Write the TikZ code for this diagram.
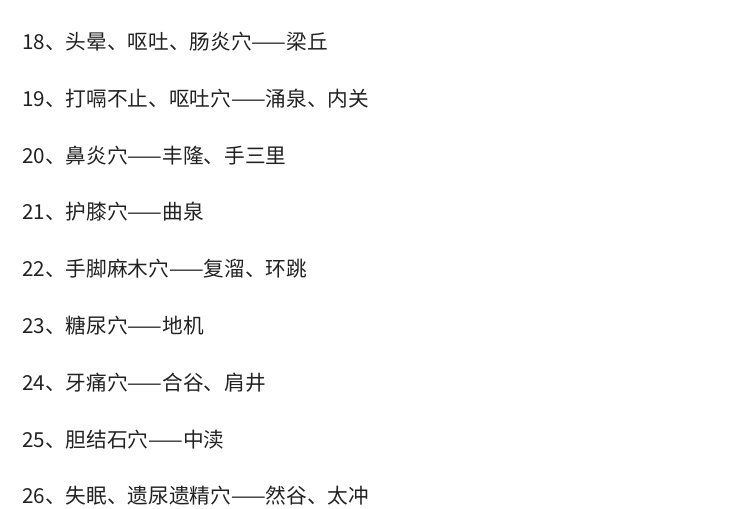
\documentclass[tikz,border=0pt]{standalone}
\usepackage{fontspec}
\setmainfont{Noto Sans CJK SC}
\usetikzlibrary{positioning}
\definecolor{textgray}{RGB}{34,34,34}
\begin{document}
\begin{tikzpicture}[x=0.75pt,y=-0.75pt,
	item/.style={anchor=west,inner sep=0pt,text=textgray,font=\fontsize{15.5pt}{16pt}\selectfont}]
	\useasboundingbox (0,0) rectangle (754,509);
	% list entries
	\node[item] (l18) at (22,42) {18、头晕、呕吐、肠炎穴——梁丘};
	\node[item] (l19) at (22,99) {19、打嗝不止、呕吐穴——涌泉、内关};
	\node[item] (l20) at (22,156) {20、鼻炎穴——丰隆、手三里};
	\node[item] (l21) at (22,212) {21、护膝穴——曲泉};
	\node[item] (l22) at (22,269) {22、手脚麻木穴——复溜、环跳};
	\node[item] (l23) at (22,326) {23、糖尿穴——地机};
	\node[item] (l24) at (22,383) {24、牙痛穴——合谷、肩井};
	\node[item] (l25) at (22,440) {25、胆结石穴——中渎};
	\node[item] (l26) at (22,496) {26、失眠、遗尿遗精穴——然谷、太冲};
\end{tikzpicture}
\end{document}
